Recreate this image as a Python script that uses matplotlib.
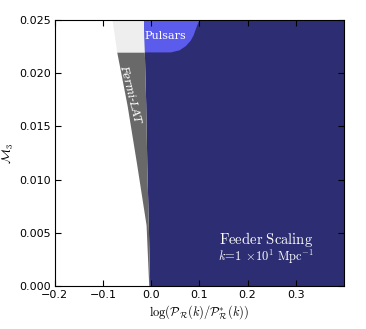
import numpy as np
import matplotlib
matplotlib.use("Agg")
import matplotlib.pyplot as plt

plt.rcParams['mathtext.fontset'] = 'cm'

# boundaries (x = log(P/P*), y = M_3)
fermi_m = [0.0, 0.00573, 0.01137, 0.01701, 0.0220]
fermi_x = [-0.005, -0.0105, -0.0298, -0.0500, -0.0714]
lat_top_m = [0.0220, 0.025]
lat_top_x = [-0.0714, -0.081]

blue_m = [0.0, 0.0057, 0.0114, 0.0170, 0.0220, 0.025]
blue_x = [-0.003, -0.0058, -0.0090, -0.0112, -0.0141, -0.0160]

pulsar_m = [0.0220, 0.0222, 0.0226, 0.0231, 0.0236, 0.0241, 0.0246, 0.025]
pulsar_x = [0.040, 0.058, 0.071, 0.081, 0.087, 0.091, 0.095, 0.099]

xmax = 0.4
xticks = [-0.2, -0.1, 0.0, 0.1, 0.2, 0.3]
yticks = [0.0, 0.005, 0.010, 0.015, 0.020, 0.025]

navy = '#2d2d73'
pulsar_col = '#5b5bec'
grey = '#696969'
light = '#eeeeee'

fig = plt.figure(figsize=(3.66, 3.29), dpi=100)
ax = fig.add_axes([0.1495, 0.1307, 0.7904, 0.8085])

bm = np.array(blue_m)
bx = np.array(blue_x)

# main excluded region
ax.fill_betweenx(bm, bx, xmax, color=navy, lw=0)

# Fermi-LAT wedge
fm = np.array(fermi_m)
ax.fill_betweenx(fm, np.array(fermi_x), np.interp(fm, bm, bx), color=grey, lw=0)
lm = np.array(lat_top_m)
ax.fill_betweenx(lm, np.array(lat_top_x), np.interp(lm, bm, bx), color=light, lw=0)

# pulsars
pm = np.array(pulsar_m)
ax.fill_betweenx(pm, np.interp(pm, bm, bx), np.array(pulsar_x), color=pulsar_col, lw=0)

ax.text(0.029, 0.0235, 'Pulsars', color='white', family='DejaVu Serif',
        fontsize=8, ha='center', va='center')
ax.text(-0.043, 0.0181, 'Fermi-LAT', color='white', family='DejaVu Serif',
        style='italic', fontsize=8, ha='center', va='center', rotation=-76)
ax.text(0.239, 0.0044, r'$\mathrm{Feeder\ Scaling}$', color='white',
        fontsize=10.5, ha='center', va='center')
ax.text(0.239, 0.0027, r'$k\!=\!1\ \!\times\!10^{1}\ \mathrm{Mpc}^{-1}$', color='white',
        fontsize=9, ha='center', va='center')

ax.set_xlim(-0.2, xmax)
ax.set_ylim(0, 0.025)
ax.set_xticks(xticks)
ax.set_yticks(yticks)
ax.set_xticklabels(['\u22120.2', '\u22120.1', '0.0', '0.1', '0.2', '0.3'])
ax.set_yticklabels(['%.3f' % v for v in yticks])
ax.tick_params(direction='in', top=True, right=True, length=4, labelsize=8, pad=3)
ax.set_xlabel(r'$\log(\mathcal{P}_{\mathcal{R}}(k)/\mathcal{P}^{*}_{\mathcal{R}}(k))$',
              fontsize=9, labelpad=2)
ax.set_ylabel(r'$\mathcal{M}_3$', fontsize=9, labelpad=2)

fig.savefig('out.png', dpi=100)
